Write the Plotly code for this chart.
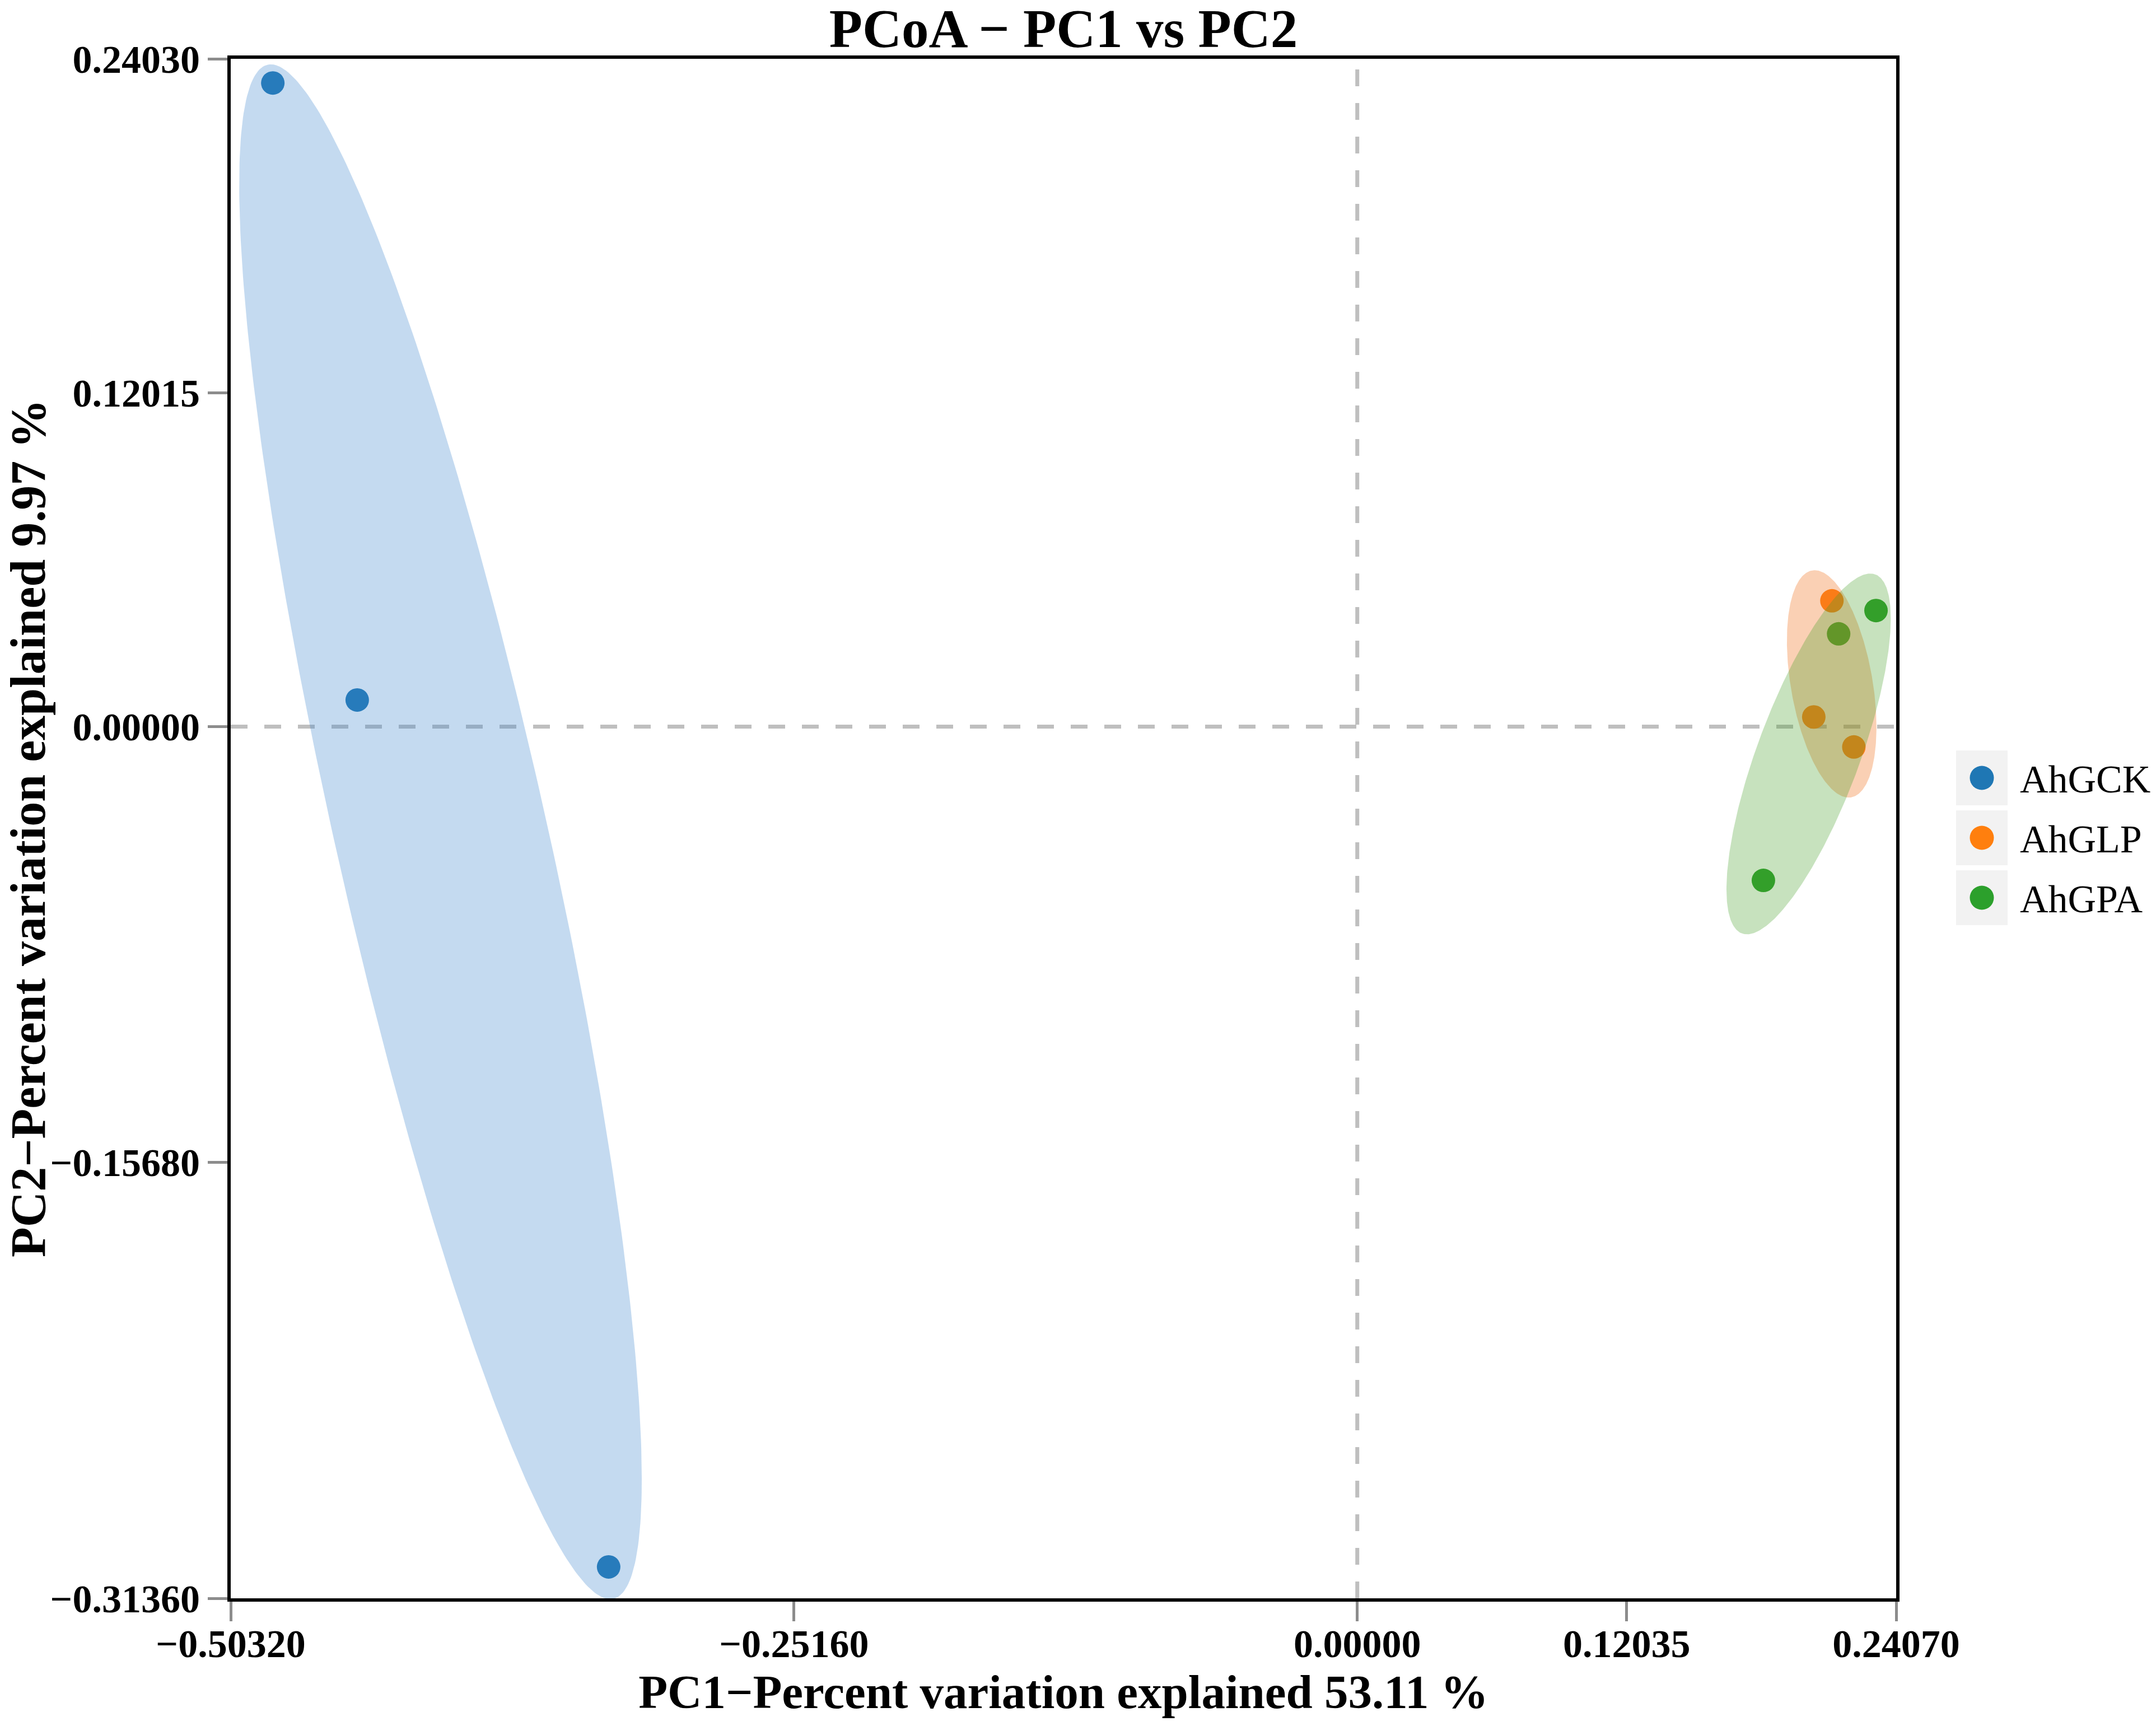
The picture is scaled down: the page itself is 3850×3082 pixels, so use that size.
import numpy as np
import plotly.graph_objects as go

# ---------------- data ----------------
groups = ["AhGCK", "AhGLP", "AhGPA"]
colors = ["#1f77b4", "#ff7f0e", "#2ca02c"]
fill_rgba = ["rgba(58,132,205,0.30)", "rgba(240,120,40,0.35)", "rgba(70,160,40,0.30)"]

pc1_AhGCK = [-0.4844, -0.4467, -0.3344]
pc2_AhGCK = [0.2316, 0.0096, -0.3023]
pc1_AhGLP = [0.2120, 0.2039, 0.2218]
pc2_AhGLP = [0.0453, 0.0035, -0.0073]
pc1_AhGPA = [0.2317, 0.2150, 0.1814]
pc2_AhGPA = [0.0418, 0.0334, -0.0553]

# group ellipses: centre, half-extent along PC1 / PC2, correlation (tilt)
ell_cx = [-0.4095, 0.2119, 0.2016]
ell_cy = [-0.0378, 0.0154, -0.0098]
ell_hx = [0.0899, 0.0200, 0.0367]
ell_hy = [0.2761, 0.0409, 0.0649]
ell_rho = [-0.843, -0.38, 0.75]

x_ticks = [-0.5032, -0.2516, 0.0, 0.12035, 0.2407]
y_ticks = [-0.3136, -0.1568, 0.0, 0.12015, 0.2403]
x_range = [-0.5032, 0.2407]
y_range = [-0.3136, 0.2403]

title_text = "PCoA \u2212 PC1 vs PC2"
x_title = "PC1\u2212Percent variation explained 53.11 %"
y_title = "PC2\u2212Percent variation explained 9.97 %"

pc1 = [pc1_AhGCK, pc1_AhGLP, pc1_AhGPA]
pc2 = [pc2_AhGCK, pc2_AhGLP, pc2_AhGPA]

FONT = "Liberation Serif"
W, H = 3850, 3082
ML, MR, MT, MB = 412, 464, 105, 228
PW, PH = W - ML - MR, H - MT - MB


def px_to_paper_x(px):
    return (px - ML) / PW


def px_to_paper_y(py):
    return (H - MB - py) / PH


fig = go.Figure()

# points
for g, c, xs, ys in zip(groups, colors, pc1, pc2):
    fig.add_trace(go.Scatter(
        x=xs, y=ys, mode="markers", name=g, legendgroup=g, showlegend=False,
        marker=dict(size=42, color=c, line=dict(width=0)),
    ))

# ellipses (drawn over the points, semi-transparent)
t = np.linspace(0, 2 * np.pi, 361)
for i, g in enumerate(groups):
    r = ell_rho[i]
    ex = ell_cx[i] + ell_hx[i] * np.cos(t)
    ey = ell_cy[i] + ell_hy[i] * (r * np.cos(t) + np.sqrt(1 - r * r) * np.sin(t))
    fig.add_trace(go.Scatter(
        x=ex, y=ey, mode="lines", fill="toself", fillcolor=fill_rgba[i],
        line=dict(width=0, color=fill_rgba[i]), hoverinfo="skip",
        showlegend=False, legendgroup=g,
    ))

# dashed reference lines at zero
fig.add_vline(x=0, line=dict(color="#bfbfbf", width=7, dash="30px,30px"), layer="below")
fig.add_hline(y=0, line=dict(color="#bfbfbf", width=7, dash="30px,30px"), layer="below")

# legend (key boxes, symbols, labels)
key_centers = [1389, 1496, 1603]
for g, c, cy in zip(groups, colors, key_centers):
    fig.add_shape(type="rect", xref="paper", yref="paper",
                  x0=px_to_paper_x(3493), x1=px_to_paper_x(3585),
                  y0=px_to_paper_y(cy + 49), y1=px_to_paper_y(cy - 49),
                  fillcolor="#f2f2f2", line=dict(width=0), layer="below")
    fig.add_shape(type="circle", xref="paper", yref="paper",
                  xsizemode="pixel", ysizemode="pixel",
                  xanchor=px_to_paper_x(3539), yanchor=px_to_paper_y(cy),
                  x0=-21.5, x1=21.5, y0=-21.5, y1=21.5,
                  fillcolor=c, line=dict(width=0), layer="above")
    fig.add_annotation(text=g, xref="paper", yref="paper",
                       x=px_to_paper_x(3605), y=px_to_paper_y(cy + 2),
                       xanchor="left", yanchor="middle", showarrow=False,
                       font=dict(family=FONT, size=70, color="black"))

# y-axis title (rotated text placed in the left margin)
fig.add_annotation(text=y_title, xref="paper", yref="paper",
                   x=px_to_paper_x(0), y=0.5, xanchor="left", yanchor="middle",
                   textangle=-90, showarrow=False,
                   font=dict(family=FONT, size=88, color="black", weight="bold"))

axis_common = dict(
    showgrid=False, zeroline=False, showline=True, linecolor="black", linewidth=6,
    mirror=True, ticks="outside", ticklen=35, tickwidth=5, tickcolor="#8c8c8c",
    tickformat=".5f", automargin=False,
    tickfont=dict(family=FONT, size=70, color="black", weight="bold"),
)

fig.update_layout(
    width=W, height=H,
    margin=dict(l=ML, r=MR, t=MT, b=MB),
    paper_bgcolor="white", plot_bgcolor="white",
    title=dict(text=title_text, x=0.5, xref="paper", xanchor="center",
               y=1 - 16 / H, yref="container", yanchor="top", pad=dict(t=0),
               font=dict(family=FONT, size=97, color="black", weight="bold")),
    xaxis=dict(range=x_range, tickvals=x_ticks, ticklabelstandoff=-20,
               title=dict(text=x_title, standoff=0,
                          font=dict(family=FONT, size=85, color="black", weight="bold")),
               **axis_common),
    yaxis=dict(range=y_range, tickvals=y_ticks, **axis_common),
    showlegend=False,
)

fig.write_html("out.html", config={"displayModeBar": False},
               post_script="document.body.style.margin='0';")
